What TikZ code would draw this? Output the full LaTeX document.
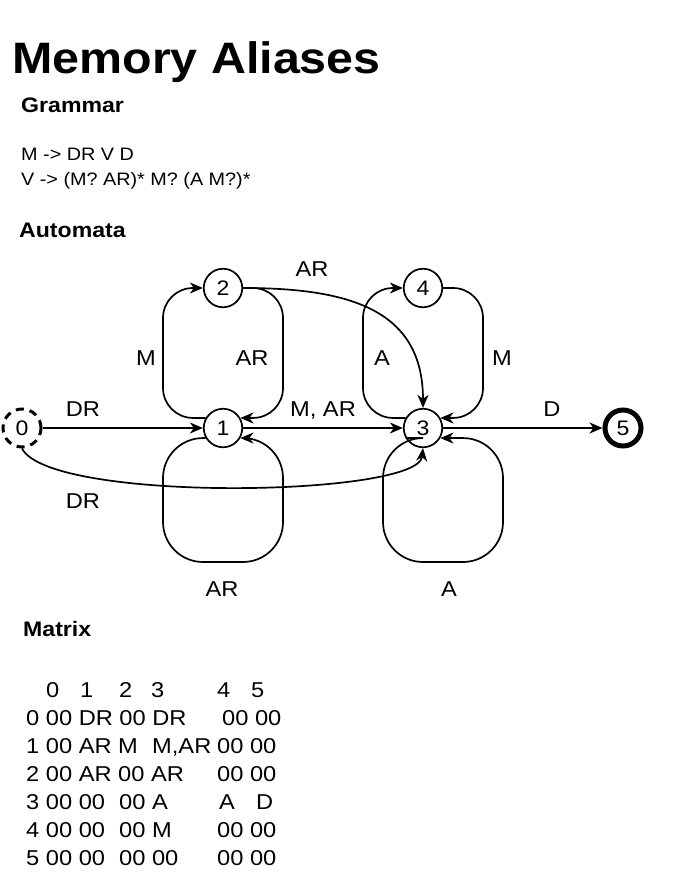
\documentclass[tikz,border=0pt]{standalone}
\usepackage{fontspec}
\setmainfont{Liberation Sans}[FakeStretch=1.1]
\usetikzlibrary{arrows.meta}
\begin{document}
\begin{tikzpicture}[x=1pt,y=-1pt,
  state/.style={circle,draw,line width=1.7pt,minimum size=38.5pt,inner sep=0pt,font=\fontsize{21}{25}\selectfont},
  edge/.style={line width=1.7pt,-{Stealth[length=13pt,width=11pt,inset=4pt]}},
  lbl/.style={anchor=base,inner sep=0pt,font=\fontsize{21.5}{25}\selectfont},
  head/.style={anchor=base west,inner sep=0pt,font=\bfseries\fontsize{21}{25}\selectfont},
  body/.style={anchor=base west,inner sep=0pt,font=\fontsize{18}{22}\selectfont},
  mtx/.style={anchor=base west,inner sep=0pt,font=\fontsize{21.5}{25}\selectfont},
]
\useasboundingbox (0,0) rectangle (684,884);
\fill[white] (0,0) rectangle (684,884);

% headings
\node[anchor=base west,inner sep=0pt,font=\bfseries\fontsize{44}{50}\selectfont] (title) at (12,73) {Memory Aliases};
\node[head] (hgram) at (21,112) {Grammar};
\node[body] (g1) at (21,160) {M -> DR V D};
\node[body] (g2) at (21,185) {V -> (M? AR)* M? (A M?)*};
\node[head] (hauto) at (19,237) {Automata};
\node[head] (hmat) at (23,636) {Matrix};

% states
\node[state,line width=3pt,dash pattern=on 8pt off 6pt,minimum size=38pt] (n0) at (22,428) {0};
\node[state] (n1) at (223,428) {1};
\node[state] (n2) at (223,288) {2};
\node[state] (n3) at (423,428) {3};
\node[state] (n4) at (423,288) {4};
\node[state,line width=5pt,minimum size=36pt] (n5) at (623,428) {5};

% straight edges
\draw[edge] (n0) -- (n1);
\draw[edge] (n1) -- (n3);
\draw[edge] (n3) -- (n5);

% loops between 1 and 2
\draw[edge,rounded corners=30pt] (n1.150) -| (163,288) -- (n2.west);
\draw[edge,rounded corners=30pt] (n2.east) -- (283,288) |- (n1.30);
% self loop at 1
\draw[edge,rounded corners=40pt] (n1.-150) -| (163,562) -- (283,562) |- (n1.-30);

% loops between 3 and 4
\draw[edge,rounded corners=30pt] (n3.150) -| (363,288) -- (n4.west);
\draw[edge,rounded corners=30pt] (n4.east) -- (483,288) |- (n3.30);
% self loop at 3
\draw[edge,rounded corners=40pt] (n3.-150) -| (383,562) -- (503,562) |- (n3.-30);

% curved edges
\draw[edge] (n2.east) .. controls (350,288) and (423,310) .. (n3.north);
\draw[edge] (n0.south) .. controls (50,503) and (418,497) .. (n3.south);

% edge labels
\node[lbl] (l23) at (312,276) {AR};
\node[lbl] (l12) at (146,365) {M};
\node[lbl] (l21) at (252,365) {AR};
\node[lbl] (l34) at (382,365) {A};
\node[lbl] (l43) at (502,365) {M};
\node[lbl] (l01) at (83,416) {DR};
\node[lbl] (l13) at (323,416) {M, AR};
\node[lbl] (l35) at (552,416) {D};
\node[lbl] (l03) at (83,508) {DR};
\node[lbl] (l11) at (222,596) {AR};
\node[lbl] (l33) at (449,596) {A};

% matrix
\node[mtx] (h0) at (46,697) {0};
\node[mtx] (h1) at (80,697) {1};
\node[mtx] (h2) at (119,697) {2};
\node[mtx] (h3) at (151,697) {3};
\node[mtx] (h4) at (217,697) {4};
\node[mtx] (h5) at (251,697) {5};

\node[mtx] (r0a) at (26,725) {0 00 DR 00 DR};
\node[mtx] (r0b) at (222,725) {00 00};

\node[mtx] (r1a) at (26,753) {1 00 AR M};
\node[mtx] (r1b) at (152,753) {M,AR};
\node[mtx] (r1c) at (217,753) {00 00};

\node[mtx] (r2a) at (26,781) {2 00 AR 00 AR};
\node[mtx] (r2b) at (217,781) {00 00};

\node[mtx] (r3a) at (26,809) {3 00 00};
\node[mtx] (r3b) at (119,809) {00 A};
\node[mtx] (r3c) at (219,809) {A};
\node[mtx] (r3d) at (256,809) {D};

\node[mtx] (r4a) at (26,837) {4 00 00};
\node[mtx] (r4b) at (119,837) {00 M};
\node[mtx] (r4c) at (217,837) {00 00};

\node[mtx] (r5a) at (26,865) {5 00 00};
\node[mtx] (r5b) at (119,865) {00 00};
\node[mtx] (r5c) at (217,865) {00 00};
\end{tikzpicture}
\end{document}
